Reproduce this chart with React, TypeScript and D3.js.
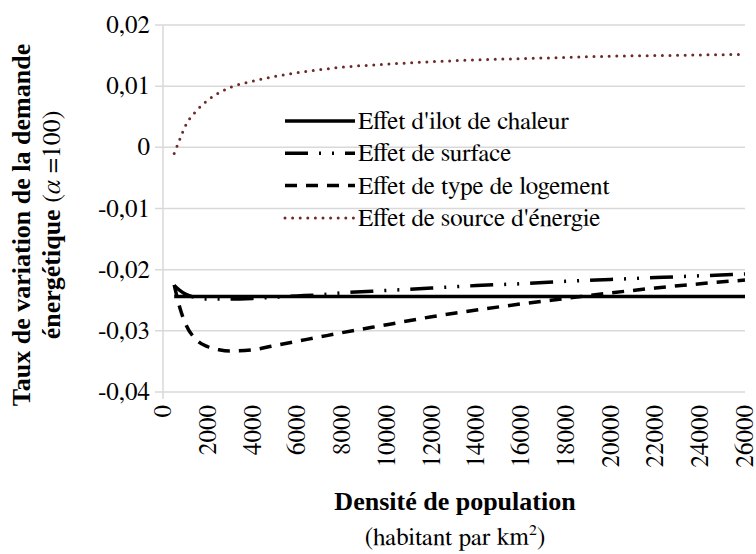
import React from "react";
import * as d3 from "d3";

const densities = [500, 750, 1000, 1500, 2000, 2500, 3000, 4000, 5000, 6000, 7000, 8000, 10000, 12000, 14000, 16000, 18000, 20000, 22000, 24000, 26000];
const ilotChaleur = [-0.0244, -0.0244, -0.0244, -0.0244, -0.0244, -0.0244, -0.0244, -0.0244, -0.0244, -0.0244, -0.0244, -0.0244, -0.0244, -0.0244, -0.0244, -0.0244, -0.0244, -0.0244, -0.0244, -0.0244, -0.0244];
const surface = [-0.0226, -0.0234, -0.024, -0.0246, -0.0248, -0.0248, -0.0248, -0.0247, -0.0245, -0.0243, -0.0241, -0.0238, -0.0234, -0.023, -0.0226, -0.0223, -0.0219, -0.0216, -0.0213, -0.021, -0.0207];
const typeLogement = [-0.0225, -0.0262, -0.0288, -0.0315, -0.0326, -0.0331, -0.0333, -0.0331, -0.0324, -0.0317, -0.031, -0.0303, -0.029, -0.0277, -0.0266, -0.0256, -0.0247, -0.0238, -0.023, -0.0223, -0.0217];
const sourceEnergie = [-0.001, 0.0013, 0.0035, 0.006, 0.0077, 0.0089, 0.0098, 0.0108, 0.0116, 0.0122, 0.0127, 0.0131, 0.0136, 0.014, 0.0143, 0.0145, 0.0147, 0.0149, 0.015, 0.0151, 0.0152];

const xTicks = [0, 2000, 4000, 6000, 8000, 10000, 12000, 14000, 16000, 18000, 20000, 22000, 24000, 26000];
const yTicks = [0.02, 0.01, 0, -0.01, -0.02, -0.03, -0.04];
const yTickLabels = ["0,02", "0,01", "0", "-0,01", "-0,02", "-0,03", "-0,04"];

const seriesNames = ["Effet d'ilot de chaleur", "Effet de surface", "Effet de type de logement", "Effet de source d'énergie"];

const REG = { fontFamily: "FreeSerif" };
const BOLD = { fontFamily: "Liberation Serif", fontWeight: "bold" as const };

export default function App() {
  const W = 756, H = 554;
  const left = 163, right = 745, top = 25, bottom = 392;
  const x = d3.scaleLinear().domain([0, 26000]).range([left, right]);
  const y = d3.scaleLinear().domain([-0.04, 0.02]).range([bottom, top]);

  const seriesData = [ilotChaleur, surface, typeLogement, sourceEnergie];
  const styles = [
    { stroke: "#000", width: 3.5, dash: undefined as string | undefined, cap: "butt" },
    { stroke: "#000", width: 3.5, dash: "23 11 2 11 2 11", cap: "butt" },
    { stroke: "#000", width: 3.5, dash: "12 9", cap: "butt" },
    { stroke: "#6e2a2a", width: 3, dash: "0 7.6", cap: "round" },
  ];

  const line = d3
    .line<number>()
    .x((_, i) => x(densities[i]))
    .y((v) => y(v))
    .curve(d3.curveMonotoneX);

  const legendX1 = 285, legendX2 = 355, legendY0 = 121, legendDY = 32.3;

  return (
    <svg width={W} height={H} style={{ position: "absolute", left: 0, top: 0, background: "#fff" }}>
      {yTicks.map((t) => (
        <line key={t} x1={left - 8} x2={right} y1={y(t)} y2={y(t)} stroke="#d9d9d9" strokeWidth={1.5} />
      ))}
      <line x1={left} x2={left} y1={top} y2={bottom + 7} stroke="#d9d9d9" strokeWidth={1.5} />
      {yTicks.map((t, i) => (
        <text key={t} x={150} y={y(t) + 8} textAnchor="end" fontSize={25} style={REG}>
          {yTickLabels[i]}
        </text>
      ))}
      {xTicks.map((t) => (
        <text key={t} transform={`translate(${x(t) + 8},405) rotate(-90)`} textAnchor="end" fontSize={25} style={REG}>
          {String(t)}
        </text>
      ))}
      {seriesData.map((s, i) => (
        <path
          key={i}
          d={line(s) || ""}
          fill="none"
          stroke={styles[i].stroke}
          strokeWidth={styles[i].width}
          strokeDasharray={styles[i].dash}
          strokeLinecap={styles[i].cap as any}
        />
      ))}
      {seriesNames.map((n, i) => {
        const ly = legendY0 + i * legendDY;
        return (
          <g key={n}>
            <line
              x1={legendX1}
              x2={legendX2}
              y1={ly}
              y2={ly}
              stroke={styles[i].stroke}
              strokeWidth={styles[i].width}
              strokeDasharray={styles[i].dash}
              strokeLinecap={styles[i].cap as any}
            />
            <text x={legendX2 + 3} y={ly + 8} fontSize={25} style={REG}>
              {n}
            </text>
          </g>
        );
      })}
      <g transform="translate(0,225) rotate(-90)">
        <text x={0} y={30} textAnchor="middle" fontSize={26} style={BOLD}>
          Taux de variation de la demande
        </text>
        <text x={0} y={60} textAnchor="middle" fontSize={26} style={REG}>
          <tspan style={BOLD}>énergétique</tspan>
          <tspan> (</tspan>
          <tspan fontStyle="italic">α</tspan>
          <tspan> =100)</tspan>
        </text>
      </g>
      <text x={455} y={510} textAnchor="middle" fontSize={26} style={BOLD}>
        Densité de population
      </text>
      <text x={455} y={545} textAnchor="middle" fontSize={25} style={REG}>
        (habitant par km<tspan fontSize={16} dy={-10}>2</tspan>
        <tspan dy={10}>)</tspan>
      </text>
    </svg>
  );
}
